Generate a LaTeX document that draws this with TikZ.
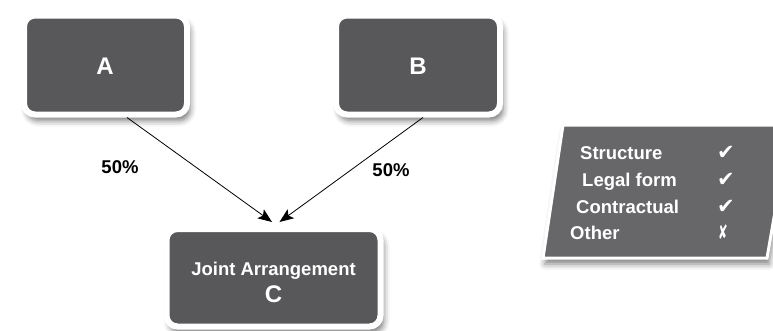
\documentclass[tikz,border=0pt]{standalone}
\usepackage{fontspec}
\setmainfont{Liberation Sans}
\newfontfamily\symfont{DejaVu Sans}
\usetikzlibrary{shadows.blur,arrows.meta}
\definecolor{boxgray}{HTML}{58585A}
\definecolor{pargray}{HTML}{67676A}
\begin{document}
\begin{tikzpicture}[x=1pt,y=-1pt,
  box/.style={fill=boxgray, draw=white, line width=6pt, rounded corners=11pt,
    inner sep=0pt, text=white,
    blur shadow={shadow xshift=3pt, shadow yshift=-6pt, shadow blur radius=6pt, shadow opacity=55}},
  bigletter/.style={text=white, font=\bfseries\fontsize{24}{27}\selectfont, inner sep=0pt},
  lbl/.style={font=\bfseries\fontsize{18.5}{22}\selectfont, inner sep=0pt},
  wlbl/.style={lbl, text=white, anchor=base west},
  tick/.style={text=white, font=\symfont\fontsize{21}{24}\selectfont, inner sep=0pt, anchor=base},
  conn/.style={line width=0.8pt, -{Stealth[length=14pt,width=11pt,inset=3pt]}}
]
\useasboundingbox (0,0) rectangle (773,330);
\clip (0,0) rectangle (773,330);

% boxes
\node[box, minimum width=163pt, minimum height=99pt] (A) at (105.5,65) {};
\node[bigletter] (Alab) at (105,66) {A};
\node[box, minimum width=164pt, minimum height=99pt] (B) at (418,65) {};
\node[bigletter] (Blab) at (418,66) {B};
\node[box, minimum width=214pt, minimum height=97.5pt] (C) at (273.5,277.75) {};
\node[lbl, text=white, anchor=base] (C1) at (273.5,275) {Joint Arrangement};
\node[bigletter, anchor=base] (C2) at (273.5,302) {C};

% connectors
\draw[conn] ([xshift=21.5pt]A.south) -- ([xshift=-1.5pt,yshift=4pt]C.north);
\draw[conn] ([xshift=5pt]B.south) -- ([xshift=6pt,yshift=4pt]C.north);
\node[lbl] (p1) at (120,167) {50\%};
\node[lbl] (p2) at (391,170) {50\%};

% criteria panel
\draw[fill=pargray, draw=white, line width=3pt,
  blur shadow={shadow xshift=2pt, shadow yshift=-6pt, shadow blur radius=6pt, shadow opacity=50}]
  (563,125) -- (790,125) -- (767,258) -- (543,258) -- cycle;
\node[wlbl] (s1) at (580,159) {Structure};
\node[wlbl] (s2) at (582,186) {Legal form};
\node[wlbl] (s3) at (576,213) {Contractual};
\node[wlbl] (s4) at (570,239) {Other};
\node[tick] (m1) at (726,159) {✔};
\node[tick] (m2) at (726,186) {✔};
\node[tick] (m3) at (726,213) {✔};
\node[tick] (m4) at (723,239) {\scalebox{0.55}[0.95]{✘}};
\end{tikzpicture}
\end{document}
